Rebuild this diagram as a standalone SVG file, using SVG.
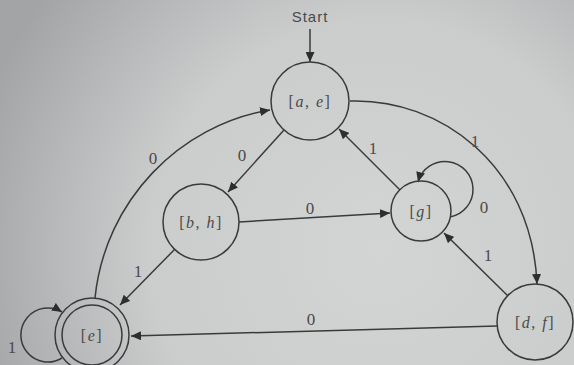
<svg xmlns="http://www.w3.org/2000/svg" width="574" height="365" viewBox="0 0 574 365">
  <defs>
    <radialGradient id="bg" cx="380" cy="250" r="420" gradientUnits="userSpaceOnUse">
      <stop offset="0" stop-color="#d3d5d4"/>
      <stop offset="0.55" stop-color="#cbcdcd"/>
      <stop offset="1" stop-color="#a2a4a6"/>
    </radialGradient>
    <marker id="arr" markerUnits="userSpaceOnUse" markerWidth="11" markerHeight="9" refX="10" refY="4.5" orient="auto">
      <path d="M0,0 L10,4.5 L0,9 z" fill="#2e2e2e"/>
    </marker>
    <style>
      .st { fill: none; stroke: #3a3a3a; stroke-width: 1.5; }
      .ed { fill: none; stroke: #3a3a3a; stroke-width: 1.5; marker-end: url(#arr); }
      .nl { font-family: "Liberation Serif", serif; font-size: 16px; letter-spacing: 1.5px; fill: #4a4a4a; text-anchor: middle; }
      .el { font-family: "Liberation Serif", serif; font-size: 17px; fill: #4a4a4a; text-anchor: middle; }
      .sl { font-family: "Liberation Sans", sans-serif; font-size: 15px; letter-spacing: 1px; fill: #4a4a4a; text-anchor: middle; }
    </style>
  </defs>
  <rect x="0" y="0" width="574" height="365" fill="url(#bg)"/>

  <g id="start">
    <text class="sl" x="310" y="22">Start</text>
  </g>

  <g id="connectors">
    <path class="ed" d="M310 29 L310 62"/>
    <path class="ed" d="M284 130 L228 192"/>
    <path class="ed" d="M400 190 L339 129"/>
    <path class="ed" d="M239 222 L390 213"/>
    <path class="ed" d="M175 249 L120 305"/>
    <path class="ed" d="M508 296 L444 233"/>
    <path class="ed" d="M497 326 L131 336"/>
    <path class="ed" d="M95 298 C105 200 180 125 270 110"/>
    <path class="ed" d="M350 101 C440 98 532 165 537 284"/>
    <path class="ed" d="M450 217 A28 28 0 1 0 418 182"/>
    <path class="ed" d="M62 358 A27 27 0 1 1 62 312"/>
    <text class="el" x="242" y="161">0</text>
    <text class="el" x="153" y="164">0</text>
    <text class="el" x="373" y="154">1</text>
    <text class="el" x="475" y="147">1</text>
    <text class="el" x="484" y="213">0</text>
    <text class="el" x="310" y="214">0</text>
    <text class="el" x="138" y="277">1</text>
    <text class="el" x="488" y="261">1</text>
    <text class="el" x="311" y="325">0</text>
    <text class="el" x="12" y="353">1</text>
  </g>

  <g id="node-ae">
    <circle class="st" cx="310" cy="101" r="39"/>
    <text class="nl" x="310" y="107">[<tspan font-style="italic">a</tspan>, <tspan font-style="italic">e</tspan>]</text>
  </g>
  <g id="node-bh">
    <circle class="st" cx="201" cy="222" r="38"/>
    <text class="nl" x="201" y="228">[<tspan font-style="italic">b</tspan>, <tspan font-style="italic">h</tspan>]</text>
  </g>
  <g id="node-g">
    <circle class="st" cx="421" cy="211" r="30"/>
    <text class="nl" x="421" y="217">[<tspan font-style="italic">g</tspan>]</text>
  </g>
  <g id="node-df">
    <circle class="st" cx="535" cy="322" r="38"/>
    <text class="nl" x="535" y="328">[<tspan font-style="italic">d</tspan>, <tspan font-style="italic">f</tspan>]</text>
  </g>
  <g id="node-e">
    <circle class="st" cx="92" cy="335" r="37"/>
    <circle class="st" cx="92" cy="335" r="30"/>
    <text class="nl" x="92" y="341">[<tspan font-style="italic">e</tspan>]</text>
  </g>
</svg>
